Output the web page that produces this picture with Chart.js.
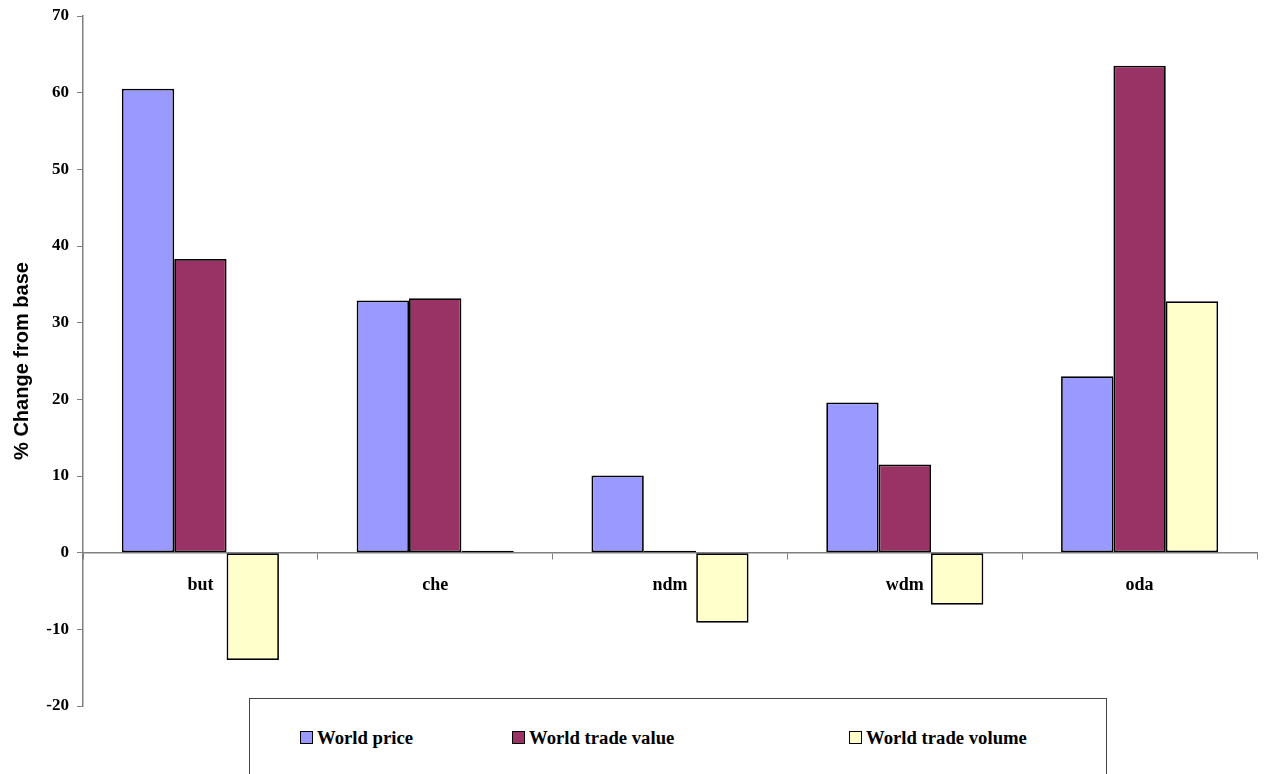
<!DOCTYPE html>
<html>
<head>
<meta charset="utf-8">
<script src="https://cdn.jsdelivr.net/npm/chart.js@4/dist/chart.umd.min.js"></script>
<style>
  html, body { margin: 0; padding: 0; background: #fff; }
  #wrap { position: relative; width: 1268px; height: 774px; overflow: hidden; }
  #c { position: absolute; left: 0; top: 0; }
  #legend { position: absolute; left: 249px; top: 698px; width: 858px; height: 120px;
    border: 1px solid #444; box-sizing: border-box; background: #fff;
    font-family: "Liberation Serif", "Times New Roman", serif; font-weight: bold; font-size: 18.7px; color: #000; }
  .item { position: absolute; top: 29px; white-space: nowrap; line-height: 20px; }
  .sw { display: inline-block; width: 11px; height: 11px; border: 1.5px solid #000; margin-right: 4px; vertical-align: 0px; }
</style>
</head>
<body>
<div id="wrap">
<canvas id="c" width="1268" height="774"></canvas>
<div id="legend"></div>
</div>
<script>
const categories = ["but", "che", "ndm", "wdm", "oda"];
const seriesNames = ["World price", "World trade value", "World trade volume"];
const worldPrice = [60.5, 32.9, 10.05, 19.6, 23.0];
const worldTradeValue = [38.3, 33.2, 0.25, 11.5, 63.5];
const worldTradeVolume = [-14.0, 0.25, -9.15, -6.8, 32.8];
const seriesColors = ["#9999FF", "#993366", "#FFFFCC"];
const yTicks = [-20, -10, 0, 10, 20, 30, 40, 50, 60, 70];

const seriesData = [worldPrice, worldTradeValue, worldTradeVolume];

const legendEl = document.getElementById('legend');
const legendX = [50, 262, 599];
seriesNames.forEach((n, i) => {
  const d = document.createElement('div');
  d.className = 'item';
  d.style.left = legendX[i] + 'px';
  d.innerHTML = '<span class="sw" style="background:' + seriesColors[i] + '"></span>' + n;
  legendEl.appendChild(d);
});

new Chart(document.getElementById('c'), {
  type: 'bar',
  data: {
    labels: categories,
    datasets: seriesNames.map((n, i) => ({
      label: n,
      data: seriesData[i],
      backgroundColor: seriesColors[i],
      borderColor: '#000',
      borderWidth: 1.75,
      borderSkipped: false,
      categoryPercentage: 0.669,
      barPercentage: 1.0
    }))
  },
  options: {
    responsive: false,
    animation: false,
    layout: { padding: { top: 16, right: 11, bottom: 68, left: 0 } },
    plugins: { legend: { display: false }, tooltip: { enabled: false } },
    scales: {
      x: {
        position: { y: 0 },
        grid: { display: true, drawOnChartArea: false, drawTicks: true, tickLength: 6, color: '#808080', offset: true },
        border: { display: true, color: '#808080', width: 1.5 },
        ticks: { color: '#000', padding: 16, font: { family: '"Liberation Serif", "Times New Roman", serif', weight: 'bold', size: 18 } },
        afterFit: (s) => { s.paddingLeft = 0; s.paddingRight = 0; s.paddingTop = 0; s.paddingBottom = 0; }
      },
      y: {
        min: -20, max: 70,
        afterBuildTicks: (s) => { s.ticks = yTicks.map(v => ({ value: v })); },
        afterFit: (s) => { s.width = 83; s.paddingTop = 0; s.paddingBottom = 0; },
        grid: { display: true, drawOnChartArea: false, drawTicks: true, tickLength: 6, color: '#808080' },
        border: { display: true, color: '#808080', width: 1.5 },
        ticks: { color: '#000', padding: 8, font: { family: '"Liberation Serif", "Times New Roman", serif', weight: 'bold', size: 17 } },
        title: { display: true, text: '% Change from base', color: '#000', padding: { top: 10, bottom: 0 },
          font: { family: '"Liberation Sans", Arial, sans-serif', weight: 'bold', size: 20 } }
      }
    }
  }
});
</script>
</body>
</html>
